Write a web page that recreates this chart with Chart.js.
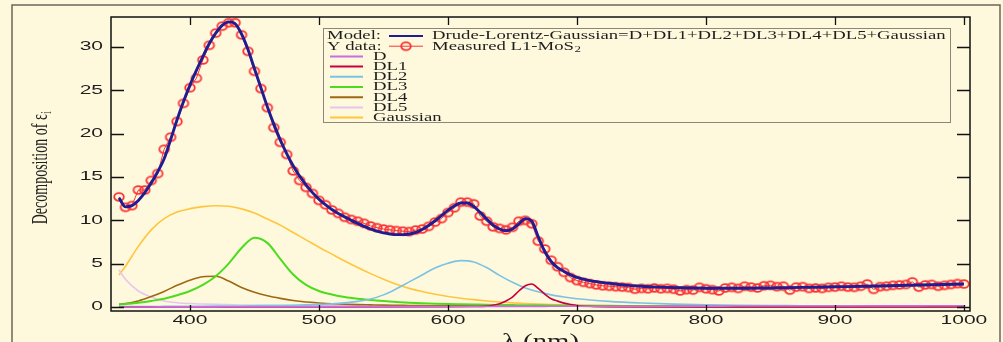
<!DOCTYPE html>
<html lang="en">
<head>
<meta charset="UTF-8">
<title>Decomposition of epsilon_i</title>
<script src="https://cdn.jsdelivr.net/npm/chart.js"></script>
<style>
  html, body { margin: 0; padding: 0; background: #fef9dd; }
  #wrap { width: 1003px; height: 342px; }
</style>
</head>
<body>
<div id="wrap"><canvas id="epsChart" width="1003" height="342"></canvas></div>
<script>
// measured epsilon_i of L1-MoS2 (5 nm steps)
const measuredLambda = [
  345,350,355,360,365,370,375,380,385,390,
  395,400,405,410,415,420,425,430,435,440,
  445,450,455,460,465,470,475,480,485,490,
  495,500,505,510,515,520,525,530,535,540,
  545,550,555,560,565,570,575,580,585,590,
  595,600,605,610,615,620,625,630,635,640,
  645,650,655,660,665,670,675,680,685,690,
  695,700,705,710,715,720,725,730,735,740,
  745,750,755,760,765,770,775,780,785,790,
  795,800,805,810,815,820,825,830,835,840,
  845,850,855,860,865,870,875,880,885,890,
  895,900,905,910,915,920,925,930,935,940,
  945,950,955,960,965,970,975,980,985,990,
  995,1000
];
const measuredValues = [
  12.7,11.5,11.7,13.5,13.5,14.6,15.4,18.2,19.6,21.4,
  23.5,25.3,26.4,28.5,30.2,31.6,32.4,32.8,32.8,31.4,
  29.5,27.2,25.2,23.0,20.7,19.0,17.6,15.7,14.6,13.8,
  13.1,12.3,11.8,11.2,10.8,10.35,10.1,9.9,9.65,9.35,
  9.15,9.0,8.9,8.82,8.75,8.7,8.88,9.0,9.3,9.8,
  10.2,10.9,11.45,12.1,12.1,11.9,10.5,9.9,9.25,9.07,
  8.9,9.2,9.9,10.0,9.6,7.6,6.7,5.4,4.65,4.0,
  3.4,3.05,2.85,2.7,2.55,2.45,2.4,2.35,2.3,2.25,
  2.05,2.15,2.1,2.2,2.1,2.15,2.05,1.85,2.0,1.95,
  2.27,2.1,2.0,1.85,2.2,2.27,2.15,2.4,2.3,2.2,
  2.45,2.5,2.35,2.4,1.95,2.3,2.35,2.15,2.2,2.15,
  2.27,2.3,2.4,2.3,2.27,2.4,2.65,2.04,2.35,2.4,
  2.5,2.55,2.6,2.9,2.3,2.55,2.6,2.4,2.5,2.6,
  2.7,2.65
];

// fitted model (Drude-Lorentz-Gaussian)
const modelLambda = measuredLambda.slice(0, 72).concat(
  [710,720,730,740,750,760,780,800,825,850,875,900,925,950,975,1000]);
const modelValues = [
  12.6,11.55,11.7,12.3,13.2,14.3,15.6,17.1,19.3,21.6,
  23.7,25.6,27.3,28.9,30.4,31.6,32.5,32.9,32.7,31.5,
  29.7,27.5,25.3,23.1,21.1,19.3,17.7,16.3,15.1,14.1,
  13.2,12.45,11.8,11.25,10.8,10.4,10.0,9.65,9.3,9.0,
  8.75,8.55,8.42,8.35,8.35,8.42,8.6,8.95,9.4,9.95,
  10.55,11.15,11.65,12.0,12.0,11.6,10.9,10.15,9.45,9.0,
  8.8,9.0,9.6,10.2,9.9,8.1,6.4,5.25,4.55,4.1,
  3.7,3.42,
  3.05,2.82,2.65,2.5,2.4,2.32,2.22,2.17,2.16,2.2,2.26,2.33,2.4,2.48,2.56,2.65
];

// components
const compLambda = [345,350,360,370,380,390,400,410,420,430,440,450,460,470,480,490,500,
  510,520,530,540,550,560,570,580,590,600,610,620,630,640,650,660,670,680,690,700,
  725,750,775,800,825,850,875,900,925,950,975,1000];
const dValues = [0.01,0.01,0.01,0.01,0.02,0.02,0.02,0.02,0.02,0.03,0.03,0.03,0.03,0.03,0.03,
  0.04,0.04,0.04,0.04,0.04,0.05,0.05,0.05,0.05,0.05,0.06,0.06,0.06,0.06,0.06,
  0.07,0.07,0.07,0.07,0.08,0.08,0.08,
  0.09,0.09,0.1,0.1,0.11,0.11,0.12,0.12,0.13,0.13,0.14,0.14];
const dl2Values = [0.05,0.05,0.06,0.06,0.07,0.08,0.08,0.09,0.1,0.11,0.12,0.14,0.16,0.18,0.21,0.25,0.3,
  0.37,0.48,0.65,0.92,1.4,2.1,2.9,3.7,4.5,5.05,5.35,5.2,4.55,3.65,2.85,2.2,1.75,1.4,1.15,0.95,
  0.65,0.46,0.33,0.25,0.2,0.17,0.15,0.13,0.12,0.11,0.1,0.1];
const dl3Values = [0.3,0.35,0.5,0.7,0.95,1.35,1.85,2.55,3.55,5.0,6.8,8.0,7.4,5.55,3.75,2.55,1.85,
  1.45,1.15,0.95,0.8,0.68,0.58,0.5,0.44,0.39,0.35,0.32,0.29,0.26,0.24,0.22,0.2,0.19,0.18,0.17,0.16,
  0.14,0.12,0.11,0.1,0.09,0.09,0.08,0.08,0.07,0.07,0.07,0.06];
const dl4Values = [0.3,0.4,0.7,1.2,1.8,2.5,3.1,3.5,3.55,3.0,2.25,1.7,1.3,1.0,0.75,0.58,0.47,
  0.38,0.32,0.28,0.25,0.22,0.2,0.18,0.16,0.15,0.14,0.13,0.12,0.11,0.1,0.1,0.09,0.09,0.08,0.08,0.08,
  0.07,0.06,0.06,0.05,0.05,0.05,0.04,0.04,0.04,0.04,0.04,0.04];
const dl5Values = [4.27,3.2,1.85,1.15,0.7,0.5,0.4,0.34,0.3,0.27,0.24,0.22,0.2,0.19,0.18,0.17,0.16,
  0.15,0.14,0.14,0.13,0.13,0.12,0.12,0.11,0.11,0.11,0.1,0.1,0.1,0.1,0.09,0.09,0.09,0.09,0.08,0.08,
  0.08,0.07,0.07,0.06,0.06,0.06,0.05,0.05,0.05,0.05,0.05,0.05];
const gaussValues = [3.7,4.7,7.0,8.9,10.2,10.95,11.35,11.58,11.68,11.62,11.32,10.85,10.15,9.45,8.6,7.75,6.9,
  6.1,5.3,4.55,3.85,3.2,2.62,2.15,1.78,1.47,1.22,1.02,0.85,0.7,0.58,0.48,0.4,0.33,0.28,0.24,0.2,
  0.14,0.1,0.08,0.06,0.05,0.05,0.04,0.04,0.04,0.03,0.03,0.03];
// DL1 is narrow, so it gets its own finer grid
const dl1Lambda = [345,500,600,620,630,635,640,645,650,655,660,665,670,675,680,685,690,695,700,710,725,800,1000];
const dl1Values = [0.0,0.01,0.03,0.06,0.1,0.2,0.38,0.7,1.15,1.85,2.45,2.65,2.15,1.5,0.95,0.68,0.45,0.3,0.18,0.08,0.04,0.02,0.01];

const xTicks = [400, 500, 600, 700, 800, 900, 1000];
const yTicks = [0, 5, 10, 15, 20, 25, 30];

const components = [
  { label: 'D', values: dValues, lambda: compLambda, color: '#c86ee0' },
  { label: 'DL1', values: dl1Values, lambda: dl1Lambda, color: '#c8003c' },
  { label: 'DL2', values: dl2Values, lambda: compLambda, color: '#7cc2e2' },
  { label: 'DL3', values: dl3Values, lambda: compLambda, color: '#4cdc1e' },
  { label: 'DL4', values: dl4Values, lambda: compLambda, color: '#9e6812' },
  { label: 'DL5', values: dl5Values, lambda: compLambda, color: '#e6c6f0' },
  { label: 'Gaussian', values: gaussValues, lambda: compLambda, color: '#ffc63c' }
];

const modelColor = '#201c92';
const dataColor = '#fa3434';
const bgColor = '#fef9dd';
const serif = '"Liberation Serif", "Times New Roman", serif';
const sans = '"Liberation Sans", Arial, sans-serif';

function pairs(xs, ys) {
  return xs.map((x, i) => ({ x: x, y: ys[i] }));
}

// open marker, a little wider than tall like in the picture
function ringMarker() {
  const c = document.createElement('canvas');
  c.width = 14; c.height = 12;
  const g = c.getContext('2d');
  g.strokeStyle = dataColor;
  g.lineWidth = 1.8;
  g.beginPath();
  g.ellipse(7, 6, 4.8, 3.9, 0, 0, Math.PI * 2);
  g.stroke();
  return c;
}
const ring = ringMarker();

// the original picture is stretched sideways, so text is drawn wider
function wideText(ctx, text, x, y, font, stretch, align) {
  ctx.save();
  ctx.font = font;
  ctx.fillStyle = '#1e1e1e';
  ctx.textBaseline = 'middle';
  ctx.textAlign = 'left';
  const w = ctx.measureText(text).width * stretch;
  let left = x;
  if (align === 'center') left = x - w / 2;
  if (align === 'right') left = x - w;
  ctx.translate(left, y);
  ctx.scale(stretch, 1);
  ctx.fillText(text, 0, 0);
  ctx.restore();
  return left + w;
}

const decorPlugin = {
  id: 'decor',
  beforeDraw(chart) {
    const ctx = chart.ctx;
    ctx.save();
    ctx.fillStyle = bgColor;
    ctx.fillRect(0, 0, chart.width, chart.height);
    ctx.restore();
  },
  afterDraw(chart) {
    const ctx = chart.ctx;
    const a = chart.chartArea;
    const xs = chart.scales.x, ys = chart.scales.y;

    ctx.save();
    // plot box
    ctx.strokeStyle = '#111';
    ctx.lineWidth = 1.5;
    ctx.strokeRect(a.left, a.top, a.right - a.left, a.bottom - a.top);

    // inward ticks
    ctx.lineWidth = 1.3;
    ctx.beginPath();
    yTicks.forEach(v => {
      const y = Math.round(ys.getPixelForValue(v)) + 0.5;
      ctx.moveTo(a.left, y); ctx.lineTo(a.left + 13, y);
      ctx.moveTo(a.right, y); ctx.lineTo(a.right - 13, y);
    });
    xTicks.forEach(v => {
      const x = Math.round(xs.getPixelForValue(v)) + 0.5;
      ctx.moveTo(x, a.top); ctx.lineTo(x, a.top + 8);
      ctx.moveTo(x, a.bottom); ctx.lineTo(x, a.bottom - 6);
    });
    ctx.stroke();
    ctx.restore();

    // tick labels
    yTicks.forEach(v => {
      wideText(ctx, String(v), 103, ys.getPixelForValue(v), '12px ' + sans, 1.75, 'right');
    });
    xTicks.forEach(v => {
      wideText(ctx, String(v), xs.getPixelForValue(v), 321, '12px ' + sans, 1.75, 'center');
    });

    // x title (cut at the bottom edge like the original)
    ctx.save();
    ctx.font = '20px ' + serif;
    ctx.fillStyle = '#1e1e1e';
    ctx.textBaseline = 'alphabetic';
    const xt = 'λ (nm)';
    const xw = ctx.measureText(xt).width * 1.44;
    ctx.translate((a.left + a.right) / 2 - xw / 2, 348);
    ctx.scale(1.44, 1);
    ctx.fillText(xt, 0, 0);
    ctx.restore();

    // y title, rotated, with subscript i
    ctx.save();
    ctx.translate(41, 168);
    ctx.rotate(-Math.PI / 2);
    ctx.scale(1, 1.6);
    ctx.fillStyle = '#1e1e1e';
    ctx.textBaseline = 'middle';
    ctx.font = '14px ' + serif;
    const mainT = 'Decomposition of ε';
    const wMain = ctx.measureText(mainT).width;
    ctx.font = '9px ' + serif;
    const wSub = ctx.measureText('i').width;
    const start = -(wMain + wSub) / 2;
    ctx.font = '14px ' + serif;
    ctx.fillText(mainT, start, 0);
    ctx.font = '9px ' + serif;
    ctx.fillText('i', start + wMain + 0.5, 4);
    ctx.restore();

    // legend box
    ctx.save();
    ctx.fillStyle = bgColor;
    ctx.fillRect(323, 28, 627, 94);
    ctx.strokeStyle = '#8c8578';
    ctx.lineWidth = 1;
    ctx.strokeRect(323.5, 28.5, 627, 94);
    ctx.restore();

    const lf = '13px ' + serif;
    const rowY = i => 36 + 10.2 * i;
    // model row
    wideText(ctx, 'Model:', 327, rowY(0), lf, 1.44, 'left');
    ctx.save();
    ctx.strokeStyle = modelColor; ctx.lineWidth = 2.2;
    ctx.beginPath(); ctx.moveTo(389, rowY(0)); ctx.lineTo(423, rowY(0)); ctx.stroke();
    ctx.restore();
    wideText(ctx, 'Drude-Lorentz-Gaussian=D+DL1+DL2+DL3+DL4+DL5+Gaussian', 432, rowY(0), lf, 1.44, 'left');
    // data row
    wideText(ctx, 'Y data:', 327, rowY(1), lf, 1.44, 'left');
    ctx.save();
    ctx.strokeStyle = dataColor; ctx.lineWidth = 1;
    ctx.beginPath(); ctx.moveTo(389, rowY(1)); ctx.lineTo(423, rowY(1)); ctx.stroke();
    ctx.drawImage(ring, 399, rowY(1) - 6);
    ctx.restore();
    const endX = wideText(ctx, 'Measured L1-MoS', 432, rowY(1), lf, 1.44, 'left');
    wideText(ctx, '2', endX + 0.5, rowY(1) + 3.5, '9px ' + serif, 1.44, 'left');
    // component rows
    components.forEach((c, i) => {
      const y = rowY(i + 2);
      ctx.save();
      ctx.strokeStyle = c.color; ctx.lineWidth = 2;
      ctx.beginPath(); ctx.moveTo(330, y); ctx.lineTo(363, y); ctx.stroke();
      ctx.restore();
      wideText(ctx, c.label, 373, y, lf, 1.44, 'left');
    });

    // outer figure frame
    ctx.save();
    ctx.strokeStyle = '#6b6558';
    ctx.lineWidth = 1.5;
    ctx.strokeRect(12, 5, 988, 345);
    ctx.restore();
  }
};

const datasets = [
  {
    label: 'Model',
    data: pairs(modelLambda, modelValues),
    borderColor: modelColor,
    borderWidth: 2.9,
    pointRadius: 0,
    cubicInterpolationMode: 'monotone'
  },
  {
    label: 'Measured L1-MoS2',
    data: pairs(measuredLambda, measuredValues),
    borderColor: dataColor,
    borderWidth: 1,
    pointStyle: ring,
    pointRadius: 5,
    tension: 0
  }
].concat(components.map(c => ({
  label: c.label,
  data: pairs(c.lambda, c.values),
  borderColor: c.color,
  borderWidth: c.label === 'DL3' ? 2 : 1.6,
  pointRadius: 0,
  cubicInterpolationMode: 'monotone'
})));

new Chart(document.getElementById('epsChart'), {
  type: 'line',
  data: { datasets: datasets },
  options: {
    responsive: false,
    animation: false,
    devicePixelRatio: 1,
    layout: { padding: { left: 111, top: 17, right: 33, bottom: 31 } },
    scales: {
      x: { type: 'linear', min: 338.8, max: 1004.7, display: false },
      y: { type: 'linear', min: -0.46, max: 33.46, display: false }
    },
    plugins: {
      legend: { display: false },
      tooltip: { enabled: false }
    }
  },
  plugins: [decorPlugin]
});
</script>
</body>
</html>
